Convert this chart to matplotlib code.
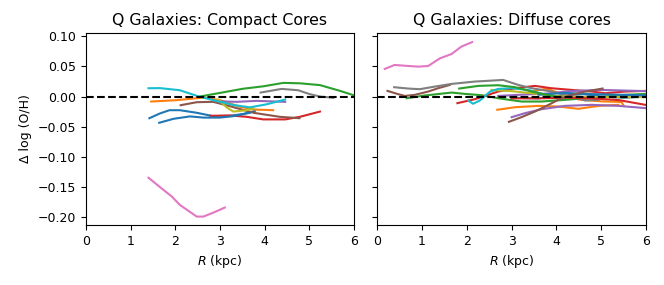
import matplotlib
matplotlib.use("Agg")
import matplotlib.pyplot as plt

# ---- Left panel: Q Galaxies, compact cores ----
L_blue1_r = [1.42, 1.66, 1.87, 2.10, 2.48, 2.85, 3.22, 3.52, 3.78]
L_blue1_y = [-0.036, -0.028, -0.0227, -0.0227, -0.027, -0.0326, -0.032, -0.029, -0.024]
L_orange_r = [1.46, 2.03, 2.63, 3.00, 3.45, 3.75, 4.19]
L_orange_y = [-0.0083, -0.006, -0.0017, -0.006, -0.017, -0.0215, -0.0227]
L_green_r = [2.55, 3.00, 3.52, 3.97, 4.42, 4.79, 5.24, 5.69, 6.00]
L_green_y = [0.0, 0.006, 0.013, 0.017, 0.0227, 0.022, 0.019, 0.0094, 0.002]
L_red_r = [2.78, 3.22, 3.60, 3.97, 4.46, 4.79, 5.24]
L_red_y = [-0.032, -0.0315, -0.0337, -0.038, -0.038, -0.0337, -0.025]
L_purple_r = [2.89, 3.37, 3.82, 4.46]
L_purple_y = [-0.0077, -0.0088, -0.0072, -0.0088]
L_brown_r = [2.12, 2.48, 2.85, 3.22, 3.75, 4.34, 4.78]
L_brown_y = [-0.0144, -0.0094, -0.0088, -0.016, -0.027, -0.0337, -0.036]
L_pink_r = [1.40, 1.69, 1.92, 2.10, 2.48, 2.63, 2.85, 3.11]
L_pink_y = [-0.135, -0.1525, -0.166, -0.180, -0.1995, -0.1995, -0.193, -0.1845]
L_gray_r = [3.91, 4.38, 4.75, 5.01, 5.24, 5.54]
L_gray_y = [0.0066, 0.0127, 0.0105, 0.004, 0.0, -0.002]
L_olive_r = [2.96, 3.15, 3.30, 3.60, 3.75]
L_olive_y = [-0.005, -0.018, -0.025, -0.0227, -0.020]
L_cyan_r = [1.40, 1.66, 2.10, 2.51, 2.85, 3.30, 3.67, 4.04, 4.46]
L_cyan_y = [0.0138, 0.014, 0.0105, 0.0005, -0.006, -0.014, -0.018, -0.013, -0.005]
L_blue2_r = [1.64, 1.96, 2.33, 2.63, 3.00, 3.30, 3.67]
L_blue2_y = [-0.0436, -0.037, -0.033, -0.035, -0.035, -0.0326, -0.027]

left_series = [
    (L_blue1_r, L_blue1_y), (L_orange_r, L_orange_y), (L_green_r, L_green_y),
    (L_red_r, L_red_y), (L_purple_r, L_purple_y), (L_brown_r, L_brown_y),
    (L_pink_r, L_pink_y), (L_gray_r, L_gray_y), (L_olive_r, L_olive_y),
    (L_cyan_r, L_cyan_y), (L_blue2_r, L_blue2_y),
]

# ---- Right panel: Q Galaxies, diffuse cores ----
R_blue1_r = [3.0, 3.6, 4.2, 4.6, 5.0, 5.5, 6.0]
R_blue1_y = [-0.002, -0.003, 0.002, 0.004, 0.0, -0.002, 0.0]
R_orange1_r = [3.41, 3.78, 4.09, 4.5, 5.0, 5.45, 5.5]
R_orange1_y = [0.008, 0.013, 0.005, -0.005, -0.008, -0.009, -0.015]
R_green1_r = [0.66, 1.06, 1.66, 1.96, 2.33, 2.70, 3.22, 3.67, 4.19, 4.64, 5.09, 5.53, 6.00]
R_green1_y = [-0.0028, 0.0017, 0.0066, 0.0044, 0.0022, -0.0028, -0.0083, -0.0083, -0.0055, -0.0028, 0.0, 0.0028, 0.0044]
R_red1_r = [1.79, 2.18, 2.70, 3.08, 3.52, 3.89, 4.34, 4.79, 5.09, 5.53, 6.00]
R_red1_y = [-0.011, -0.0044, 0.0083, 0.0138, 0.0177, 0.0138, 0.011, 0.0083, 0.0055, 0.0083, 0.0094]
R_purple1_r = [2.70, 3.2, 3.8, 4.3, 5.0, 6.0]
R_purple1_y = [0.001, 0.003, 0.005, 0.009, 0.011, 0.009]
R_brown1_r = [0.23, 0.47, 0.62, 0.84, 1.14, 1.36, 1.62]
R_brown1_y = [0.0094, 0.0039, 0.001, 0.0028, 0.0083, 0.0138, 0.0193]
R_pink_r = [0.17, 0.39, 0.69, 0.92, 1.14, 1.40, 1.66, 1.88, 2.12]
R_pink_y = [0.0459, 0.0525, 0.0508, 0.0497, 0.0508, 0.0635, 0.0707, 0.083, 0.0906]
R_gray_r = [0.38, 0.69, 0.95, 1.29, 1.66, 2.18, 2.81, 3.15, 3.45, 3.89, 4.34, 4.64, 4.94]
R_gray_y = [0.0155, 0.0133, 0.0122, 0.0166, 0.021, 0.0249, 0.0276, 0.0193, 0.0138, 0.0083, 0.0, -0.0066, -0.0055]
R_olive_r = [2.55, 3.0, 3.5, 4.1, 5.0, 6.0]
R_olive_y = [0.011, 0.009, 0.005, 0.0, -0.001, -0.001]
R_cyan_r = [2.03, 2.14, 2.29, 2.52, 2.70, 3.00, 3.37, 3.70]
R_cyan_y = [-0.0066, -0.012, -0.0066, 0.0083, 0.0127, 0.0138, 0.011, 0.004]
R_blue2_r = [3.6, 4.2, 4.8, 5.4, 6.0]
R_blue2_y = [0.003, 0.006, 0.004, 0.003, 0.002]
R_orange2_r = [2.68, 3.08, 3.60, 4.04, 4.49, 4.94, 5.38]
R_orange2_y = [-0.022, -0.0177, -0.0155, -0.0166, -0.0204, -0.0155, -0.0138]
R_green2_r = [1.83, 2.26, 2.70, 3.08, 3.45, 3.82, 4.19]
R_green2_y = [0.0133, 0.0177, 0.0188, 0.0155, 0.0083, 0.0022, -0.0028]
R_red2_r = [3.0, 3.6, 4.2, 4.8, 5.4, 6.0]
R_red2_y = [-0.003, -0.003, -0.002, -0.003, -0.006, -0.014]
R_purple2_r = [3.0, 3.3, 3.67, 4.19, 4.79, 5.38, 6.0]
R_purple2_y = [-0.0343, -0.0276, -0.021, -0.0155, -0.0138, -0.0155, -0.0193]
R_brown2_r = [2.94, 3.22, 3.52, 3.75, 4.04, 4.34, 4.64, 5.03]
R_brown2_y = [-0.042, -0.0343, -0.0249, -0.0166, -0.0055, 0.0028, 0.0083, 0.0133]

right_series = [
    (R_blue1_r, R_blue1_y), (R_orange1_r, R_orange1_y), (R_green1_r, R_green1_y),
    (R_red1_r, R_red1_y), (R_purple1_r, R_purple1_y), (R_brown1_r, R_brown1_y),
    (R_pink_r, R_pink_y), (R_gray_r, R_gray_y), (R_olive_r, R_olive_y),
    (R_cyan_r, R_cyan_y), (R_blue2_r, R_blue2_y), (R_orange2_r, R_orange2_y),
    (R_green2_r, R_green2_y), (R_red2_r, R_red2_y), (R_purple2_r, R_purple2_y),
    (R_brown2_r, R_brown2_y),
]

titles = ["Q Galaxies: Compact Cores", "Q Galaxies: Diffuse cores"]
colors = ["C%d" % i for i in range(10)]

fig = plt.figure(figsize=(6.64, 2.85), dpi=100)
ax1 = fig.add_axes([0.1295, 0.2105, 0.4035, 0.6735])
ax2 = fig.add_axes([0.568, 0.2105, 0.405, 0.6735], sharey=ax1)

for ax, series, title in [(ax1, left_series, titles[0]), (ax2, right_series, titles[1])]:
    for i, (r, y) in enumerate(series):
        ax.plot(r, y, color=colors[i % 10], lw=1.5)
    ax.axhline(0, color="black", ls="--", lw=1.5)
    ax.set_xlim(0, 6)
    ax.set_xticks(range(0, 7))
    ax.set_title(title, fontsize=11.3)
    ax.set_xlabel("$R$ (kpc)", fontsize=9)
    ax.tick_params(labelsize=9)

ax1.set_ylim(-0.2135, 0.1055)
ax1.set_yticks([0.10, 0.05, 0.0, -0.05, -0.10, -0.15, -0.20])
ax1.set_ylabel("Δ log (O/H)", fontsize=9)
plt.setp(ax2.get_yticklabels(), visible=False)

fig.savefig("out.png", dpi=100)
